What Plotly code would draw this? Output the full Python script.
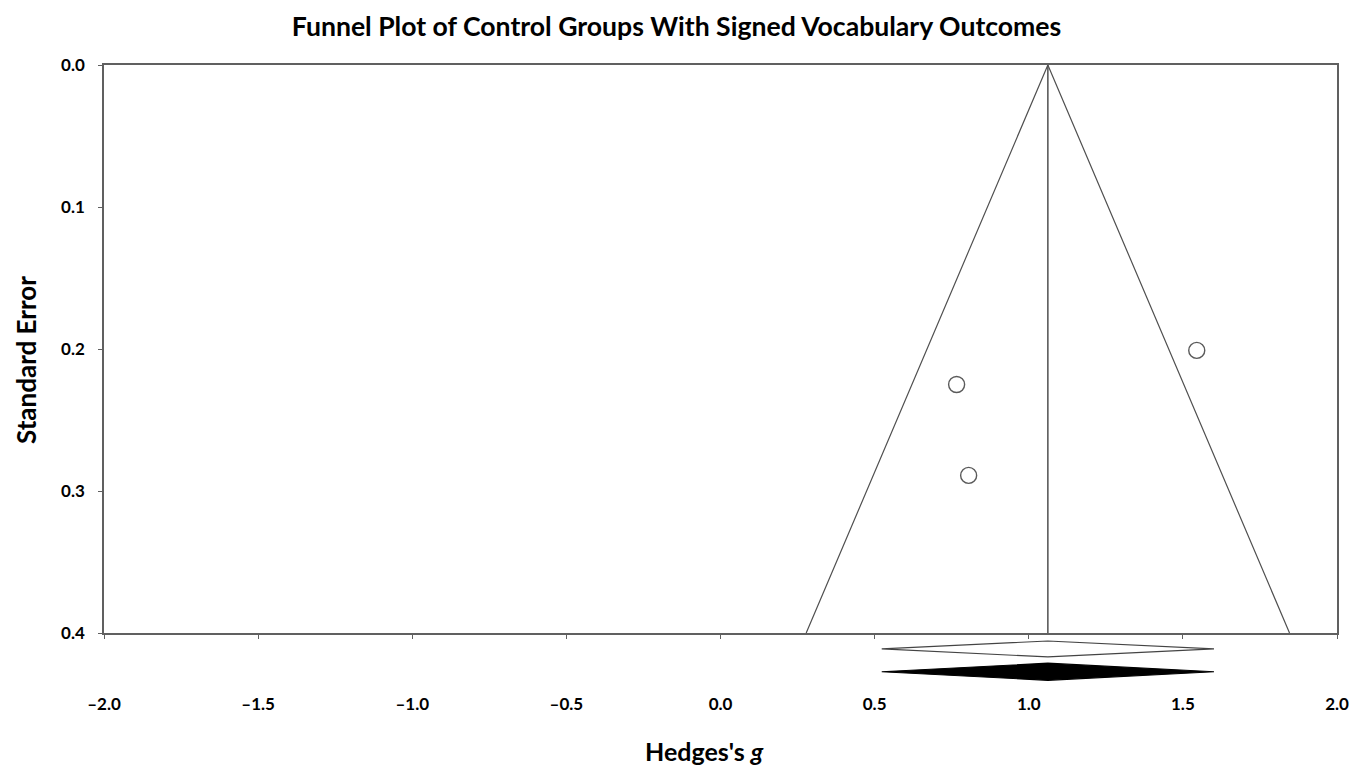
import plotly.graph_objects as go

# ---- data ----
hedges_g = [0.766, 0.805, 1.545]
std_err = [0.225, 0.289, 0.201]
summary_g = 1.062
ci_low = 0.523
ci_high = 1.601
se_max = 0.4
x_ticks = [-2.0, -1.5, -1.0, -0.5, 0.0, 0.5, 1.0, 1.5, 2.0]
y_ticks = [0.0, 0.1, 0.2, 0.3, 0.4]

FONT = "Lato"
LINE = "#606060"

fig = go.Figure()

# funnel (95% pseudo-confidence limits)
z = 1.96
fig.add_trace(go.Scatter(
    x=[summary_g - z * se_max, summary_g, summary_g + z * se_max],
    y=[se_max, 0.0, se_max],
    mode="lines", line=dict(color="#505050", width=1.2),
    hoverinfo="skip", showlegend=False, xaxis="x", yaxis="y"))
# summary vertical line
fig.add_trace(go.Scatter(
    x=[summary_g, summary_g], y=[0.0, se_max],
    mode="lines", line=dict(color="#505050", width=1.5),
    hoverinfo="skip", showlegend=False, xaxis="x", yaxis="y"))
# studies
fig.add_trace(go.Scatter(
    x=hedges_g, y=std_err, mode="markers",
    marker=dict(symbol="circle-open", size=16, color="#5a5a5a",
                line=dict(width=1.4, color="#5a5a5a")),
    showlegend=False, xaxis="x", yaxis="y"))

# summary diamonds (observed = white, imputed = black)
def diamond(row, half, fill, outline):
    fig.add_trace(go.Scatter(
        x=[ci_low, summary_g, ci_high, summary_g, ci_low],
        y=[row, row - half, row, row + half, row],
        mode="lines", fill="toself", fillcolor=fill,
        line=dict(color=outline, width=1.2),
        hoverinfo="skip", showlegend=False, xaxis="x2", yaxis="y2"))

diamond(0.28, 0.14, "white", "#444444")
diamond(0.68, 0.15, "black", "black")

W, H = 1353, 770
plot_left, plot_right = 104, 1337
plot_top, plot_bottom = 65, 690
axis_px = 633
ph = plot_bottom - plot_top
pw = plot_right - plot_left
split = (plot_bottom - axis_px) / ph

tickfont = dict(family=FONT, size=17, color="black", weight="bold")
titlefont = dict(family=FONT, size=26, color="black", weight="bold")

fig.update_layout(
    width=W, height=H,
    margin=dict(l=plot_left, r=W - plot_right, t=plot_top, b=H - plot_bottom),
    paper_bgcolor="white", plot_bgcolor="white",
    title=dict(text="Funnel Plot of Control Groups With Signed Vocabulary Outcomes",
               x=0.5, xref="container", xanchor="center",
               y=1 - 27 / H, yref="container", yanchor="middle",
               font=dict(family=FONT, size=26.6, color="black", weight="bold")),
    xaxis=dict(range=[-2.0, 2.0], anchor="y", tickvals=x_ticks,
               showticklabels=False, ticks="outside", ticklen=4,
               tickcolor=LINE, showline=True, linecolor=LINE, linewidth=1.5,
               mirror=True, showgrid=False, zeroline=False, automargin=False),
    xaxis2=dict(range=[-2.0, 2.0], anchor="y2", matches="x",
                tickvals=x_ticks,
                ticktext=[f"{v:.1f}".replace("-", "\u2013") for v in x_ticks],
                ticks="", showline=False, showgrid=False, zeroline=False,
                tickfont=tickfont, ticklabelstandoff=2, automargin=False),
    yaxis=dict(range=[se_max, 0.0], domain=[split, 1.0], anchor="x",
               tickvals=y_ticks, ticktext=[f"{v:.1f}" for v in y_ticks],
               ticks="outside", ticklen=4, tickcolor=LINE,
               tickfont=tickfont, ticklabelstandoff=10,
               showline=True, linecolor=LINE, linewidth=1.5, mirror=True,
               showgrid=False, zeroline=False, automargin=False),
    yaxis2=dict(range=[1.0, 0.0], domain=[0.0, split], anchor="x2",
                visible=False, showgrid=False, zeroline=False),
    annotations=[
        dict(text="Hedges's <i>g</i>", xref="paper", yref="paper",
             x=(704 - plot_left) / pw, y=(plot_bottom - 751) / ph,
             xanchor="center", yanchor="middle", showarrow=False,
             font=dict(family=FONT, size=25, color="black", weight="bold")),
        dict(text="Standard Error", xref="paper", yref="paper",
             x=(26 - plot_left) / pw, y=(plot_bottom - 360) / ph,
             xanchor="center", yanchor="middle", textangle=-90,
             showarrow=False, font=titlefont),
    ],
)

fig.write_html("out.html",
               config={"displayModeBar": False},
               post_script="document.body.style.margin='0';"
                           "document.body.style.overflow='hidden';")
